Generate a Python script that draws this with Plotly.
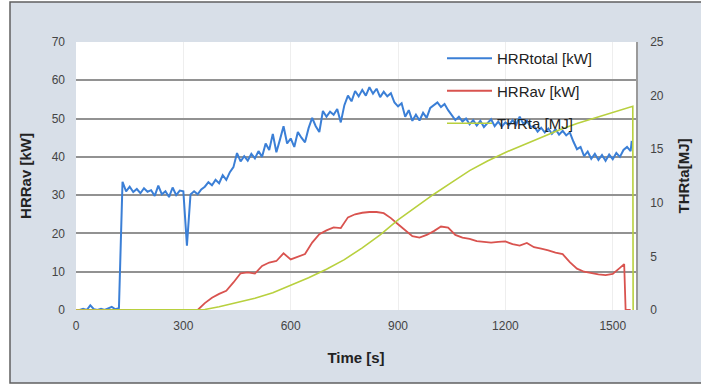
import plotly.graph_objects as go

# ---------------- data ----------------
blue_t = list(range(0, 1560, 10)) + [1553]
blue_v = [
    0, 0, 0.3, 0, 1.2, 0.2, 0, 0.3, 0, 0.5, 0.8, 0.2, 0.5,            # 0-120
    33.5, 31.0, 32.2, 30.8, 31.6, 30.5, 31.8, 30.9, 31.3, 29.8,       # 130-220
    32.5, 30.2, 31.0, 29.5, 32.0, 30.0, 31.2, 31.0, 16.8, 30.2,       # 230-320
    31.0, 30.2, 31.5, 32.2, 33.4, 32.6, 34.0, 33.1, 35.2, 34.0,       # 330-420
    36.0, 37.3, 41.0, 38.8, 40.2, 39.0, 40.8, 39.6, 41.5, 40.0,       # 430-520
    43.5, 41.8, 46.0, 41.2, 44.5, 48.0, 43.5, 44.8, 42.6, 46.5,       # 530-620
    45.0, 43.8, 47.5, 50.2, 48.0, 46.5, 52.0, 50.5, 51.8, 51.0,       # 630-720
    52.5, 49.0, 53.5, 56.0, 54.5, 57.2, 55.8, 57.5, 56.0, 58.2,       # 730-820
    56.5, 57.8, 55.6, 57.0, 55.8, 56.6, 54.2, 53.2, 54.0, 50.5,       # 830-920
    52.2, 49.4, 51.0, 49.5, 51.5, 50.2, 52.8, 53.5, 54.2, 53.0,       # 930-1020
    53.8, 52.2, 51.0, 49.6, 50.5, 49.2, 50.0, 48.5, 49.6, 48.2,       # 1030-1120
    49.4, 47.8, 48.8, 49.8, 48.0, 49.2, 47.9, 49.0, 48.3, 49.6,       # 1130-1220
    48.4, 50.5, 48.6, 49.5, 47.8, 48.0, 46.6, 47.6, 46.4, 47.4,       # 1230-1320
    46.0, 47.2, 45.8, 46.8, 45.6, 46.4, 44.0, 42.0, 42.6, 40.2,       # 1330-1420
    41.4, 39.5, 40.8, 39.2, 40.5, 39.0, 40.6, 39.4, 41.0, 40.0,       # 1430-1520
    41.8, 42.6, 41.5, 44.2,                                           # 1530-1550
    0,                                                                # 1553
]

red_t = [0, 340, 360, 380, 400, 420, 440, 460, 480, 500, 520, 540, 560, 580,
         600, 620, 640, 660, 680, 700, 720, 740, 760, 780, 800, 820, 840, 860,
         880, 900, 920, 940, 960, 980, 1000, 1020, 1040, 1060, 1080, 1100,
         1120, 1140, 1160, 1180, 1200, 1220, 1240, 1260, 1280, 1300, 1320,
         1340, 1360, 1380, 1400, 1420, 1440, 1460, 1480, 1500, 1520, 1532,
         1536, 1550]
red_v = [0, 0, 1.8, 3.2, 4.2, 5.0, 7.2, 9.6, 9.8, 9.5, 11.5, 12.4, 12.8, 14.8,
         13.2, 14.0, 14.6, 17.6, 19.8, 20.8, 21.6, 21.4, 24.2, 25.0, 25.4,
         25.6, 25.6, 25.3, 24.0, 22.4, 20.8, 19.3, 18.9, 19.6, 20.6, 21.8,
         21.5, 19.6, 18.9, 18.6, 18.0, 17.8, 17.6, 17.8, 17.9, 17.2, 16.8,
         17.5, 16.4, 16.0, 15.6, 15.0, 14.6, 12.5, 10.8, 10.0, 9.6, 9.3, 9.1,
         9.4, 11.0, 12.0, 0, 0]

green_t = [0, 345, 360, 400, 450, 500, 550, 600, 650, 700, 750, 800, 850, 900,
           950, 1000, 1050, 1100, 1150, 1200, 1250, 1300, 1350, 1400, 1450,
           1500, 1556, 1557]
green_v = [0, 0, 0.05, 0.3, 0.7, 1.1, 1.6, 2.3, 3.0, 3.8, 4.7, 5.8, 7.0, 8.4,
           9.6, 10.8, 11.9, 13.0, 13.9, 14.7, 15.4, 16.1, 16.8, 17.4, 17.9,
           18.4, 19.0, 0]

x_ticks = [0, 300, 600, 900, 1200, 1500]
y_ticks = [0, 10, 20, 30, 40, 50, 60, 70]
y2_ticks = [0, 5, 10, 15, 20, 25]

# ---------------- figure ----------------
fig = go.Figure()
fig.add_trace(go.Scatter(x=blue_t, y=blue_v, mode="lines", name="HRRtotal [kW]",
                         line=dict(color="#3b7fd6", width=2), legendgroup="a"))
fig.add_trace(go.Scatter(x=red_t, y=red_v, mode="lines", name="HRRav [kW]",
                         line=dict(color="#d9534f", width=1.8), legendgroup="b"))
fig.add_trace(go.Scatter(x=green_t, y=green_v, mode="lines", name="THRta [MJ]",
                         line=dict(color="#b8d03e", width=1.6), legendgroup="c",
                         yaxis="y2"))

L, R, T, B = 76, 65, 42, 80
W, H = 701, 390
pw, ph = W - L - R, H - T - B

def px(x):
    return (x - L) / pw

def py(y):
    return (H - B - y) / ph

font = "Liberation Sans, Arial, sans-serif"

fig.update_layout(
    width=W, height=H,
    margin=dict(l=L, r=R, t=T, b=B),
    paper_bgcolor="white",
    plot_bgcolor="white",
    font=dict(family=font, color="#333"),
    showlegend=True,
    legend=dict(x=px(442), y=1.0, xanchor="left", yanchor="top",
                bgcolor="rgba(0,0,0,0)", font=dict(size=15, color="#222"),
                traceorder="grouped", tracegroupgap=10, itemwidth=45),
    xaxis=dict(range=[0, 1565], tickvals=x_ticks, showgrid=True,
               gridcolor="#eeeeee", zeroline=False, showline=False,
               tickfont=dict(size=12, color="#444"), ticks="",
               ticklabelstandoff=7,
               title=dict(text="<b>Time [s]</b>", font=dict(size=15, color="#222"),
                          standoff=20)),
    yaxis=dict(range=[0, 70], tickvals=y_ticks, showgrid=True,
               gridcolor="#929292", gridwidth=1.5, zeroline=False,
               tickfont=dict(size=12, color="#444"), ticks="",
               ticklabelstandoff=10,
               title=dict(text="<b>HRRav [kW]</b>", font=dict(size=15, color="#222"),
                          standoff=16)),
    yaxis2=dict(range=[0, 25], tickvals=y2_ticks, overlaying="y", side="right",
                showgrid=False, zeroline=False, showline=True,
                linecolor="#9a9a9a", linewidth=1.5,
                tickfont=dict(size=12, color="#444"), ticks="",
                ticklabelstandoff=10,
                title=dict(text="<b>THRta[MJ]</b>", font=dict(size=15, color="#222"),
                           standoff=16)),
    shapes=[
        dict(type="rect", xref="paper", yref="paper", layer="below",
             x0=px(10), x1=px(704), y0=py(383), y1=py(2),
             fillcolor="#d8dfe8", line=dict(color="#606060", width=1.5)),
        dict(type="rect", xref="paper", yref="paper", layer="below",
             x0=0, x1=1, y0=0, y1=1, fillcolor="white", line=dict(width=0)),
    ],
)

fig.write_html("out.html")
